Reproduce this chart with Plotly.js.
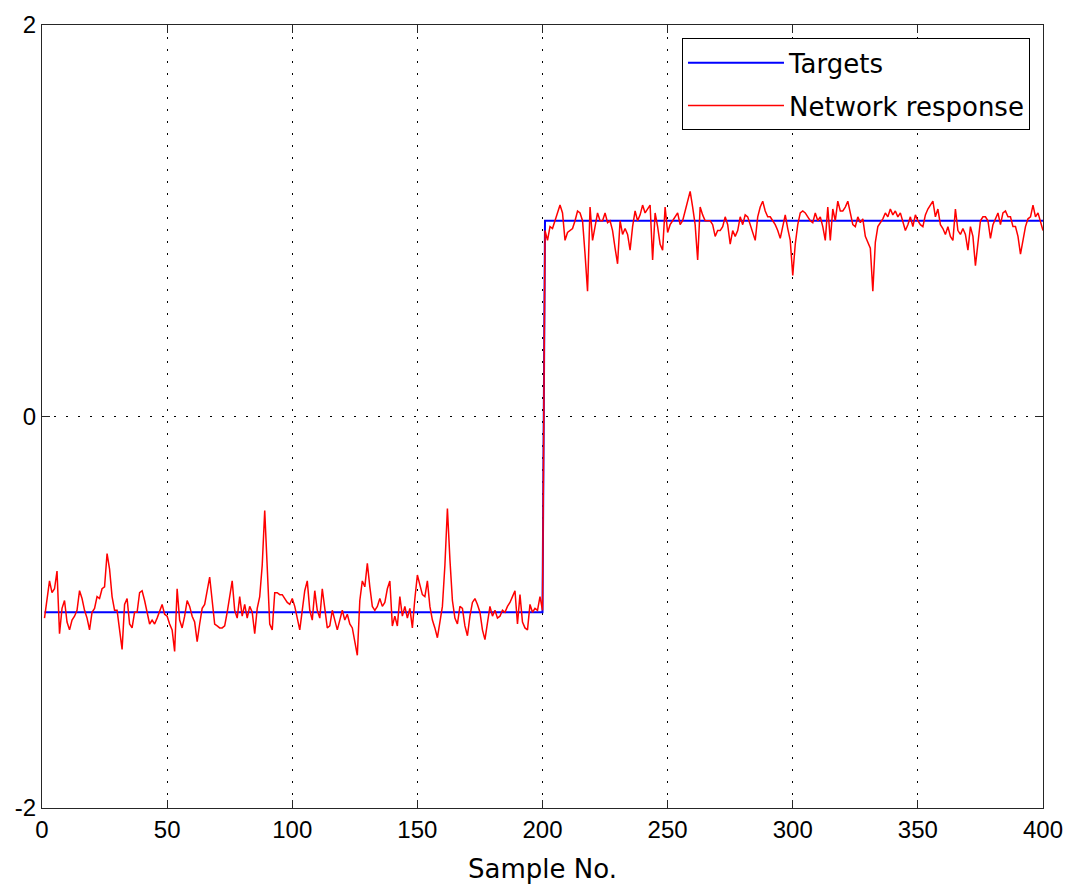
<!DOCTYPE html>
<html>
<head>
<meta charset="utf-8">
<script src="https://cdn.plot.ly/plotly-3.0.1.min.js"></script>
<style>html,body{margin:0;padding:0;background:#fff;}#chart{width:1072px;height:890px;}</style>
</head>
<body>
<div id="chart"></div>
<script>
// Targets: step from -1 to 1 between sample 200 and 201
const targetX = [1, 200, 201, 400];
const targetY = [-1, -1, 1, 1];

// Network response, samples 1..200
const responseLow = [
  -1.03,-0.92,-0.84,-0.90,-0.88,-0.79,-1.11,-0.98,-0.94,-1.05,
  -1.09,-1.04,-1.02,-0.99,-0.89,-0.93,-0.99,-1.03,-1.09,-1.00,
  -0.98,-0.92,-0.93,-0.88,-0.87,-0.70,-0.78,-0.92,-0.99,-0.99,
  -1.09,-1.19,-0.96,-0.93,-1.06,-1.08,-1.00,-1.00,-0.90,-0.89,
  -0.94,-1.00,-1.06,-1.04,-1.06,-1.03,-0.99,-0.96,-1.01,-1.02,
  -1.06,-1.09,-1.20,-0.88,-1.04,-1.08,-1.02,-0.94,-0.97,-1.02,
  -1.05,-1.15,-1.06,-0.98,-0.96,-0.88,-0.82,-0.94,-1.06,-1.07,
  -1.08,-1.08,-1.07,-1.00,-0.93,-0.84,-0.99,-1.03,-0.92,-1.02,
  -0.96,-1.03,-0.97,-1.00,-1.11,-0.98,-0.92,-0.76,-0.48,-0.77,
  -1.06,-1.09,-0.90,-0.90,-0.91,-0.91,-0.93,-0.95,-0.96,-0.93,
  -0.97,-1.04,-1.09,-0.99,-0.89,-0.84,-0.99,-1.04,-0.89,-0.99,
  -1.03,-0.88,-0.99,-1.08,-1.07,-0.99,-1.04,-1.09,-1.04,-0.99,
  -1.04,-1.01,-1.06,-1.08,-1.15,-1.22,-0.94,-0.84,-0.87,-0.75,
  -0.87,-0.97,-0.99,-0.97,-0.93,-0.97,-0.95,-0.88,-0.84,-1.07,
  -1.02,-1.07,-0.92,-1.02,-0.97,-1.03,-0.98,-1.08,-0.93,-0.81,
  -0.86,-0.91,-0.92,-0.84,-0.97,-1.04,-1.08,-1.13,-1.05,-0.97,
  -0.76,-0.47,-0.73,-0.94,-1.03,-1.06,-0.97,-0.98,-1.07,-1.12,
  -1.02,-0.95,-0.93,-0.96,-1.00,-1.09,-1.14,-1.06,-0.97,-1.02,
  -0.99,-1.03,-1.02,-0.99,-1.00,-0.97,-0.95,-0.92,-0.89,-1.06,
  -0.91,-1.05,-1.08,-1.09,-0.96,-1.00,-0.98,-0.99,-0.92,-0.99
];

// Network response, samples 201..400
const responseHigh = [
  0.95,0.90,0.97,0.96,1.00,1.05,1.08,1.04,0.90,0.94,
  0.95,0.96,1.00,1.05,1.04,1.00,0.83,0.64,1.07,0.90,
  0.97,1.04,1.00,1.00,1.04,0.99,1.00,0.95,0.86,0.78,
  1.00,0.93,0.96,0.93,0.85,0.97,1.05,1.00,1.03,1.08,
  1.04,1.06,1.08,0.80,1.04,0.97,0.88,0.85,1.07,0.94,
  0.98,1.00,1.02,1.04,0.98,1.00,1.05,1.10,1.15,1.07,
  0.98,0.80,1.07,1.03,1.00,1.00,1.00,0.98,0.92,0.95,
  0.95,0.97,1.02,0.98,0.88,0.95,0.92,0.95,1.02,0.98,
  1.03,1.02,0.98,0.93,0.90,1.02,1.07,1.10,1.05,1.02,
  1.02,1.00,0.98,0.95,0.91,0.97,1.03,0.96,0.90,0.72,
  0.88,0.98,1.04,1.05,1.04,1.02,1.00,0.99,1.04,1.00,
  1.02,0.97,0.90,1.07,0.90,1.06,1.00,1.10,1.05,1.05,
  1.07,1.10,1.04,0.98,0.97,1.02,0.99,1.01,0.92,0.89,
  0.86,0.64,0.89,0.97,0.99,1.01,1.04,1.02,1.06,1.03,
  1.05,1.02,1.04,1.00,0.95,0.98,1.02,0.97,1.03,1.00,
  0.98,0.97,1.03,1.06,1.08,1.10,1.02,1.06,0.98,0.96,
  0.93,0.97,0.92,0.90,1.06,0.95,0.93,0.96,0.93,0.85,
  0.97,0.92,0.77,0.90,1.00,1.02,1.02,1.00,0.91,0.98,
  1.01,1.04,0.98,1.04,1.05,1.02,1.02,0.97,0.97,0.92,
  0.83,0.91,0.97,1.01,1.02,1.08,1.02,1.04,1.00,0.95
];

const xTickVals = [0, 50, 100, 150, 200, 250, 300, 350, 400];
const yTickVals = [-2, 0, 2];
const xLabel = 'Sample No.';
const seriesNames = ['Targets', 'Network response'];

const responseY = responseLow.concat(responseHigh);
const responseX = responseY.map((_, i) => i + 1);

const FONT = 'Liberation Sans, Arial, Helvetica, sans-serif';
const WIDE = 'DejaVu Sans, sans-serif';

const traces = [
  { x: targetX, y: targetY, type: 'scatter', mode: 'lines', name: seriesNames[0],
    line: { color: '#0000ff', width: 2 }, legendgroup: 'a' },
  { x: responseX, y: responseY, type: 'scatter', mode: 'lines', name: seriesNames[1],
    line: { color: '#ff0000', width: 1.5 }, legendgroup: 'b' }
];

const axisCommon = {
  showline: true, linecolor: '#262626', linewidth: 1, mirror: 'ticks',
  ticks: 'inside', ticklen: 8, tickcolor: '#262626', tickwidth: 1,
  showgrid: true, gridcolor: '#000000', griddash: '2px,10px', gridwidth: 1,
  zeroline: false, tickfont: { family: FONT, size: 24, color: '#000' }
};

const layout = {
  width: 1072, height: 890,
  margin: { l: 42, r: 29, t: 25, b: 82 },
  paper_bgcolor: '#fff', plot_bgcolor: '#fff',
  showlegend: true,
  xaxis: Object.assign({}, axisCommon, {
    range: [0, 400], tickvals: xTickVals, ticktext: xTickVals.map(String),
    title: { text: xLabel, font: { family: WIDE, size: 26, color: '#000' }, standoff: 18 }
  }),
  yaxis: Object.assign({}, axisCommon, {
    range: [-2, 2], tickvals: yTickVals, ticktext: yTickVals.map(String)
  }),
  legend: {
    x: 0.987, y: 0.983, xanchor: 'right', yanchor: 'top',
    bgcolor: '#fff', bordercolor: '#000', borderwidth: 1,
    font: { family: WIDE, size: 26, color: '#000' },
    itemwidth: 96, tracegroupgap: 6, traceorder: 'grouped'
  }
};

Plotly.newPlot('chart', traces, layout, { displayModeBar: false, staticPlot: true });
</script>
</body>
</html>
